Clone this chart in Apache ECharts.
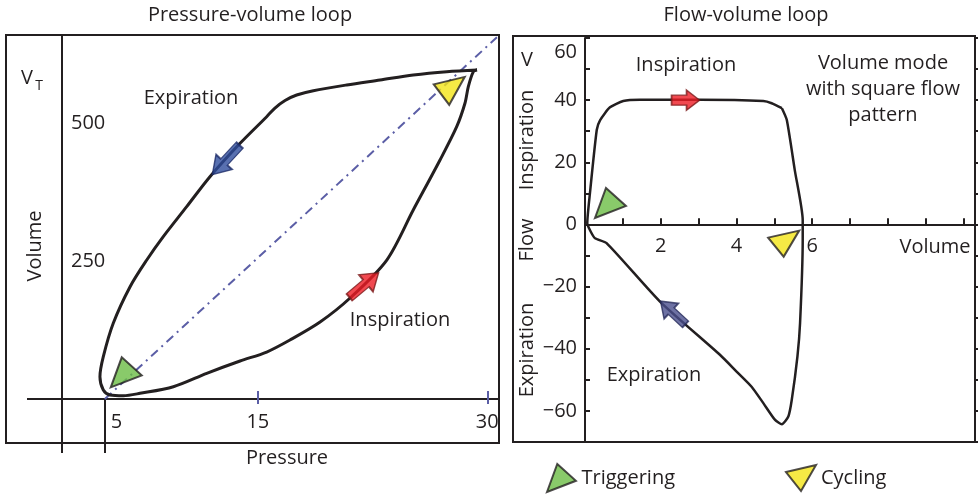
<!DOCTYPE html>
<html><head><meta charset="utf-8">
<script src="https://cdn.jsdelivr.net/npm/echarts@6/dist/echarts.min.js"></script>
<style>html,body{margin:0;padding:0;background:#fff}#c{width:978px;height:498px}</style>
</head><body><div id="c"></div>
<script>
// ---------- Pressure-volume loop: [pressure, volume] ----------
// starts at the end-inspiratory tip, runs down the expiration limb, then back up the inspiration limb
const pvLoop = [[29.33,596.6],[27.35,593.5],[25.16,587.5],[22.99,578.4],[20.81,569.4],[18.63,559.0],[17.54,551.2],[16.78,541.3],[16.12,527.6],[15.58,511.9],[13.84,463.6],[11.87,403.1],[10.35,348.7],[8.82,294.3],[7.74,252.0],[6.65,203.6],[5.55,137.3],[4.90,76.7],[4.68,40.4],[4.90,16.3],[5.34,7.3],[6.21,6.0],[7.30,10.3],[9.48,22.3],[11.66,46.6],[13.84,68.9],[15.58,85.2],[17.10,107.0],[19.07,139.6],[21.03,183.1],[23.43,252.0],[25.16,342.7],[26.91,433.4],[28.00,493.7],[28.54,536.2],[28.76,566.3],[29.09,593.5],[29.33,596.6]];
const pvCompliance = [[5,0],[30.63,656]];
const pvPressureTicks = [5, 15, 30];
const pvVolumeTicks = [250, 500];
const pvTrigger = [[6.40,48.4]];
const pvCycle = [[27.51,558.7]];
const pvExpArrow = [[12.92,433.4]];
const pvInspArrow = [[21.94,206.7]];

// ---------- Flow-volume loop: [volume, flow] ----------
const fvLoop = [[5.20,37.4],[5.33,33.6],[5.54,17.5],[5.75,1.4],[5.75,-5.0],[5.68,-31.7],[5.61,-42.5],[5.46,-56.5],[5.37,-61.8],[5.20,-64.3],[5.02,-62.9],[4.71,-57.5],[4.40,-52.2],[4.01,-47.4],[3.57,-42.0],[1.98,-24.8],[0.57,-6.0],[0.26,-4.4],[0.13,-1.8],[0.06,0.4],[0.13,10.0],[0.31,30.4],[0.40,33.6],[0.66,37.7],[1.01,39.7],[1.45,40.1],[3.04,40.1],[4.71,39.7],[4.93,39.0],[5.20,37.4]];
const fvVolumeTicks = [1, 2, 3, 4, 5, 6, 7, 8, 9, 10];
const fvVolumeLabels = [2, 4, 6];
const fvFlowLabels = [-60, -40, -20, 0, 20, 40, 60];
const fvTrigger = [[0.673,6.9]];
const fvCycle = [[5.247,-6.2]];
const fvInspArrow = [[2.656,40]];
const fvExpArrow = [[2.324,-28.4]];

const INK = '#231f20', PURPLE = '#5b5ea6', FONT = '"Open Sans", sans-serif';
const GREEN = '#6cbd45', YELLOW = '#f4e516', RED = '#ed1c24';
const TRI_TRIG = 'path://M-14,14L-3,-16L17,2Z';
const TRI_CYC = 'path://M-15,-4L15,-11L0,15Z';
const ARROW = 'path://M-21,-5L3,-5L3,-12L21,0L3,12L3,5L-21,5Z';
const ARROW_S = 'path://M-14,-5L1,-5L1,-10L14,0L1,10L1,5L-14,5Z';
const minus = v => String(v).replace('-', '\u2212');

const lbl = {fontFamily: FONT, fontSize: 20, color: INK};
function txt(text, x, y, extra) {
  return Object.assign({type: 'text', x: x, y: y, silent: true, z: 10,
    style: Object.assign({text: text, x: 0, y: 0, font: '20px ' + FONT, fill: INK,
      align: 'center', verticalAlign: 'middle', textAlign: 'center', textVerticalAlign: 'middle'}, (extra && extra.style) || {})},
    extra ? {rotation: extra.rotation || 0} : {});
}
function line(x1, y1, x2, y2) {
  return {type: 'line', silent: true, z: 5, shape: {x1, y1, x2, y2}, style: {stroke: INK, lineWidth: 2}};
}

const FV_LEFT = 585, FV_W = 390, FV_TOP = 38, FV_H = 404, FV_MIN = -70, FV_MAX = 60, FV_VMAX = 10.3;
// upper part of the flow-volume plot (flow >= 0): its bottom edge carries the volume axis on flow = 0
const FV_UPPER_H = FV_H * FV_MAX / (FV_MAX - FV_MIN);
const FV_TICK_LEN = 6;

const chart = echarts.init(document.getElementById('c'), null, {renderer: 'canvas'});
chart.setOption({
  animation: false,
  backgroundColor: '#fff',
  grid: [
    {left: 62, top: 35, width: 436, height: 364},
    {left: FV_LEFT, top: FV_TOP, width: FV_W, height: FV_H},
    {left: FV_LEFT, top: FV_TOP, width: FV_W, height: FV_UPPER_H},
    // thin strip just above the flow = 0 line; its split lines are the volume-axis ticks
    {left: FV_LEFT, top: FV_TOP + FV_UPPER_H - FV_TICK_LEN, width: FV_W, height: FV_TICK_LEN}
  ],
  xAxis: [
    {gridIndex: 0, type: 'value', min: 2.2, max: 30.7, position: 'bottom',
      axisLine: {show: true, onZero: false, lineStyle: {color: INK, width: 2}},
      splitLine: {show: false},
      axisTick: {show: true, inside: true, length: 8, customValues: pvPressureTicks.slice(1), lineStyle: {color: PURPLE, width: 2}},
      axisLabel: Object.assign({show: true, customValues: pvPressureTicks.slice(1), margin: 13}, lbl)},
    {gridIndex: 0, type: 'value', min: 2.2, max: 30.7, position: 'bottom',
      axisLine: {show: false, onZero: false}, splitLine: {show: false},
      axisTick: {show: true, length: 54, customValues: pvPressureTicks.slice(0, 1), lineStyle: {color: INK, width: 2}},
      axisLabel: Object.assign({show: true, customValues: pvPressureTicks.slice(0, 1), margin: 13, align: 'left', padding: [0, 0, 0, 6]}, lbl)},
    {gridIndex: 0, type: 'value', min: 2.2, max: 30.7, position: 'bottom',
      axisLine: {show: false, onZero: false}, splitLine: {show: false},
      axisTick: {show: true, length: 5, customValues: pvPressureTicks.slice(1), lineStyle: {color: PURPLE, width: 2}},
      axisLabel: {show: false}},
    {gridIndex: 1, type: 'value', min: 0, max: FV_VMAX, show: false},
    {gridIndex: 2, type: 'value', min: 0, max: FV_VMAX, position: 'bottom',
      axisLine: {show: true, onZero: false, lineStyle: {color: INK, width: 2}},
      splitLine: {show: false},
      axisTick: {show: true, inside: true, length: FV_TICK_LEN, customValues: fvVolumeTicks, lineStyle: {color: INK, width: 2}},
      axisLabel: Object.assign({show: true, customValues: fvVolumeLabels, margin: 12}, lbl)},
    {gridIndex: 3, type: 'value', min: 0, max: FV_VMAX, interval: 1, position: 'bottom',
      axisLine: {show: false, onZero: false}, axisTick: {show: false}, axisLabel: {show: false},
      splitLine: {show: true, lineStyle: {color: INK, width: 2, type: 'solid'}}}
  ],
  yAxis: [
    {gridIndex: 0, type: 'value', min: 0, max: 660,
      axisLine: {show: true, onZero: false, lineStyle: {color: INK, width: 2}},
      splitLine: {show: false}, axisTick: {show: false},
      axisLabel: Object.assign({show: true, inside: true, customValues: pvVolumeTicks, margin: 9}, lbl)},
    {gridIndex: 1, type: 'value', min: FV_MIN, max: FV_MAX, interval: 10,
      axisLine: {show: true, onZero: false, lineStyle: {color: INK, width: 2}},
      splitLine: {show: false},
      axisTick: {show: true, inside: true, length: 5, lineStyle: {color: INK, width: 2}},
      axisLabel: Object.assign({show: true, margin: 8,
        formatter: v => fvFlowLabels.indexOf(v) < 0 ? '' : (v === 60 ? '{t|60}' : minus(v)),
        rich: {t: {fontFamily: FONT, fontSize: 20, color: INK, padding: [28, 0, 0, 0]}}}, lbl)},
    {gridIndex: 1, type: 'value', min: FV_MIN, max: FV_MAX, interval: 10,
      axisLine: {show: false, onZero: false}, splitLine: {show: false},
      axisTick: {show: true, length: 3, lineStyle: {color: INK, width: 2}},
      axisLabel: {show: false}},
    {gridIndex: 2, type: 'value', min: 0, max: FV_MAX, show: false},
    {gridIndex: 3, type: 'value', min: 0, max: 1, show: false}
  ],
  legend: {
    left: 541, top: 458, itemWidth: 30, itemHeight: 28, itemGap: 110,
    selectedMode: false,
    textStyle: {fontFamily: FONT, fontSize: 20, color: INK},
    data: [{name: 'Triggering', icon: TRI_TRIG}, {name: 'Cycling', icon: TRI_CYC}]
  },
  series: [
    {type: 'line', name: 'pv-compliance', xAxisIndex: 0, yAxisIndex: 0, data: pvCompliance, symbol: 'none', silent: true,
      lineStyle: {color: PURPLE, width: 2, type: [9, 5, 2, 5]}, z: 2},
    {type: 'line', name: 'pv-loop', xAxisIndex: 0, yAxisIndex: 0, data: pvLoop, smooth: 0.3, symbol: 'none', silent: true,
      lineStyle: {color: INK, width: 3}, z: 3},
    {type: 'line', name: 'fv-loop', xAxisIndex: 3, yAxisIndex: 1, data: fvLoop, smooth: 0.2, symbol: 'none', silent: true,
      lineStyle: {color: INK, width: 2.5}, z: 3},
    {type: 'scatter', name: 'Triggering', xAxisIndex: 0, yAxisIndex: 0, data: pvTrigger, symbol: TRI_TRIG, symbolSize: [31, 30], silent: true,
      itemStyle: {color: GREEN, borderColor: INK, borderWidth: 2}, z: 6},
    {type: 'scatter', name: 'Triggering', xAxisIndex: 3, yAxisIndex: 1, data: fvTrigger, symbol: TRI_TRIG, symbolSize: [31, 30], silent: true,
      itemStyle: {color: GREEN, borderColor: INK, borderWidth: 2}, z: 6},
    {type: 'scatter', name: 'Cycling', xAxisIndex: 0, yAxisIndex: 0, data: pvCycle, symbol: TRI_CYC, symbolSize: [31, 28], silent: true,
      itemStyle: {color: YELLOW, borderColor: INK, borderWidth: 2}, z: 6},
    {type: 'scatter', name: 'Cycling', xAxisIndex: 3, yAxisIndex: 1, data: fvCycle, symbol: TRI_CYC, symbolSize: [31, 26], silent: true,
      itemStyle: {color: YELLOW, borderColor: INK, borderWidth: 2}, z: 6},
    {type: 'scatter', name: 'pv-exp-arrow', xAxisIndex: 0, yAxisIndex: 0, data: pvExpArrow, symbol: ARROW, symbolSize: [40, 22], symbolRotate: 227, silent: true,
      itemStyle: {color: '#2e4c9c', borderColor: '#1c2a66', borderWidth: 1.5}, z: 6},
    {type: 'scatter', name: 'pv-insp-arrow', xAxisIndex: 0, yAxisIndex: 0, data: pvInspArrow, symbol: ARROW, symbolSize: [38, 22], symbolRotate: 40, silent: true,
      itemStyle: {color: RED, borderColor: '#7a1a1a', borderWidth: 1.5}, z: 6},
    {type: 'scatter', name: 'fv-insp-arrow', xAxisIndex: 3, yAxisIndex: 1, data: fvInspArrow, symbol: ARROW_S, symbolSize: [28, 20], silent: true,
      itemStyle: {color: RED, borderColor: '#7a1a1a', borderWidth: 1.5}, z: 6},
    {type: 'scatter', name: 'fv-exp-arrow', xAxisIndex: 3, yAxisIndex: 1, data: fvExpArrow, symbol: ARROW, symbolSize: [34, 21], symbolRotate: 137, silent: true,
      itemStyle: {color: '#484e8c', borderColor: '#262a5a', borderWidth: 1.5}, z: 6}
  ],
  graphic: [
    {type: 'rect', silent: true, z: 1, shape: {x: 6, y: 35, width: 493, height: 408}, style: {fill: 'none', stroke: INK, lineWidth: 2}},
    {type: 'rect', silent: true, z: 1, shape: {x: 513, y: 36, width: 462, height: 406}, style: {fill: 'none', stroke: INK, lineWidth: 2}},
    line(27, 399, 62, 399),
    line(62, 399, 62, 453),
    txt('Pressure-volume loop', 250, 15),
    txt('Flow-volume loop', 746, 15),
    txt('Expiration', 191, 98),
    txt('Inspiration', 400, 320),
    txt('Pressure', 287, 458),
    txt('V', 27, 78),
    txt('T', 39, 86, {style: {font: '14px ' + FONT}}),
    txt('Volume', 35, 246, {rotation: Math.PI / 2}),
    txt('V', 527, 60),
    txt('Inspiration', 527, 140, {rotation: Math.PI / 2}),
    txt('Flow', 527, 240, {rotation: Math.PI / 2}),
    txt('Expiration', 527, 350, {rotation: Math.PI / 2}),
    txt('Inspiration', 686, 65),
    txt('Volume mode\nwith square flow\npattern', 883, 89, {style: {lineHeight: 26}}),
    txt('Expiration', 654, 375),
    txt('Volume', 935, 247)
  ]
});
</script>
</body></html>
